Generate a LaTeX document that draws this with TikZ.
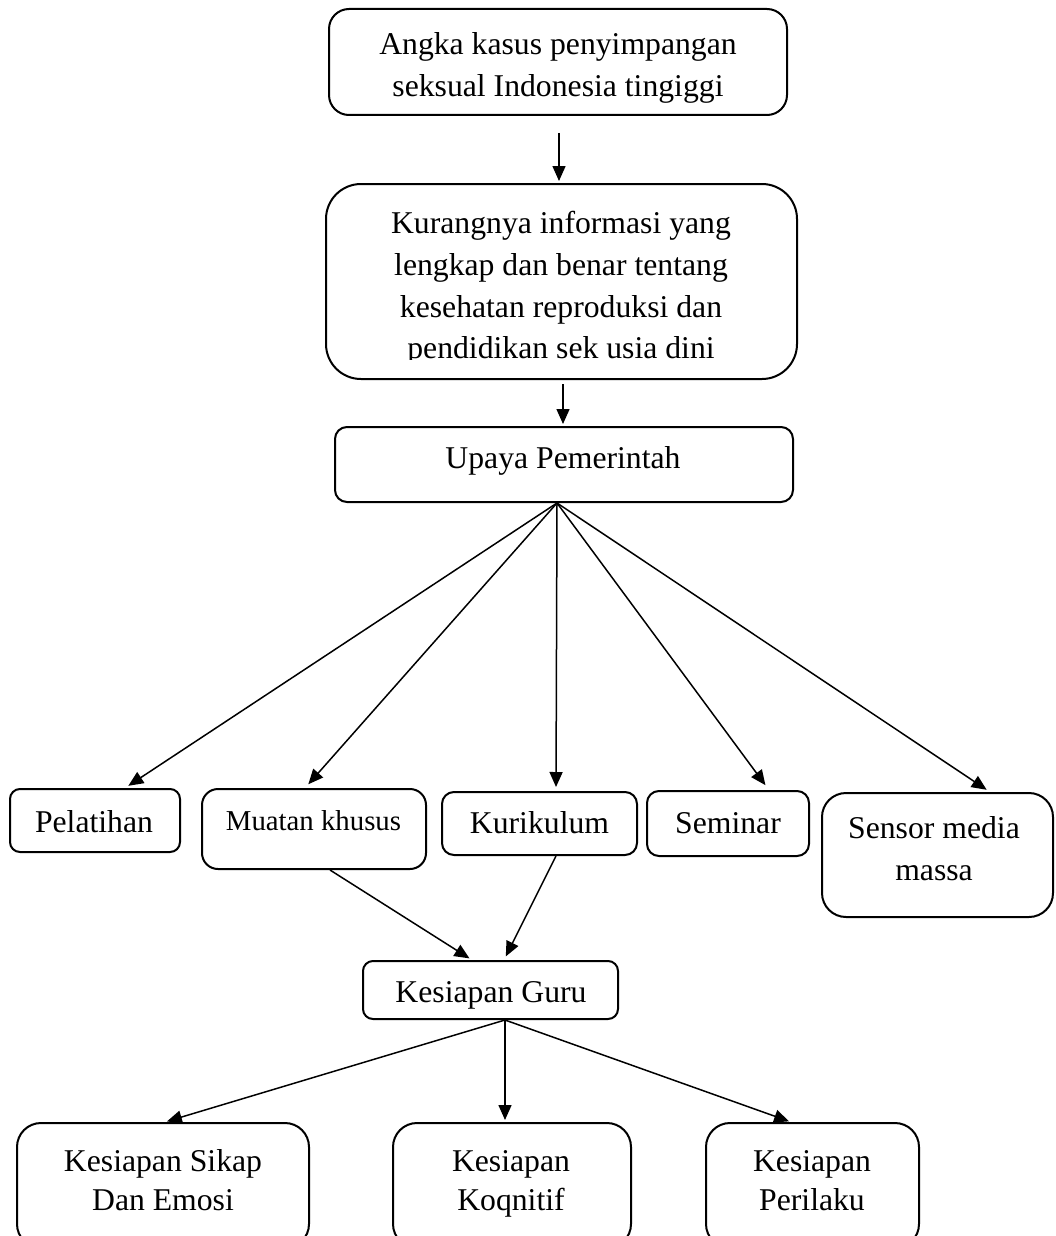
\documentclass[tikz,border=0pt]{standalone}
\usepackage{fontspec}
\setmainfont{Liberation Serif}
\usetikzlibrary{arrows.meta}
\begin{document}
\begin{tikzpicture}[x=0.5pt,y=-0.5pt,
  box/.style={draw, line width=1pt, inner sep=0pt, fill=none},
  txt/.style={inner sep=0pt, anchor=base, font=\fontsize{15.85}{20}\selectfont},
  smalltxt/.style={inner sep=0pt, anchor=base, font=\fontsize{14.4}{18}\selectfont},
  arr/.style={-{Triangle[length=7.5pt,width=6.5pt]}, line width=0.75pt},
  ]
\useasboundingbox (0,0) rectangle (1055,1236);
\clip (0,0) rectangle (1055,1236);

% boxes
\node[box, rounded corners=10pt, minimum width=229pt, minimum height=53pt] (b1) at (558,62) {};
\node[box, rounded corners=17.5pt, minimum width=235.5pt, minimum height=97.5pt] (b2) at (561.5,281.5) {};
\node[box, rounded corners=6pt, minimum width=229pt, minimum height=37.5pt] (b3) at (564,464.5) {};
\node[box, rounded corners=5pt, minimum width=85pt, minimum height=31.5pt] (pel) at (95,820.5) {};
\node[box, rounded corners=8pt, minimum width=112pt, minimum height=40pt] (mua) at (314,829) {};
\node[box, rounded corners=6pt, minimum width=97.5pt, minimum height=31.5pt] (kur) at (539.5,823.5) {};
\node[box, rounded corners=6pt, minimum width=81pt, minimum height=32.5pt] (sem) at (728,823.5) {};
\node[box, rounded corners=12pt, minimum width=115.5pt, minimum height=62pt] (sen) at (937.5,855) {};
\node[box, rounded corners=5pt, minimum width=127.5pt, minimum height=29pt] (guru) at (490.5,990) {};
\node[box, rounded corners=12pt, minimum width=146pt, minimum height=62.5pt] (sik) at (163,1185.5) {};
\node[box, rounded corners=12pt, minimum width=119pt, minimum height=62.5pt] (kog) at (512,1185.5) {};
\node[box, rounded corners=12pt, minimum width=106.5pt, minimum height=62.5pt] (per) at (812.5,1185.5) {};

% texts
\node[txt] (t1a) at (558,55) {Angka kasus penyimpangan};
\node[txt] (t1b) at (558,97) {seksual Indonesia tingiggi};
\node[txt] (t2a) at (561,233) {Kurangnya informasi yang};
\node[txt] (t2b) at (561,275) {lengkap dan benar tentang};
\node[txt] (t2c) at (561,317) {kesehatan reproduksi dan};
\begin{scope}
  \clip (326,184) rectangle (797,359);
  \node[txt] (t2d) at (561,358) {pendidikan sek usia dini};
\end{scope}
\node[txt] (t3) at (563,468) {Upaya Pemerintah};
\node[txt] (tpel) at (94,832) {Pelatihan};
\node[smalltxt] (tmua) at (313.5,830) {Muatan khusus};
\node[txt] (tkur) at (539.5,833) {Kurikulum};
\node[txt] (tsem) at (728,833) {Seminar};
\node[txt] (tsena) at (934,838) {Sensor media};
\node[txt] (tsenb) at (934,880) {massa};
\node[txt] (tguru) at (491,1002) {Kesiapan Guru};
\node[txt] (tsika) at (163,1171) {Kesiapan Sikap};
\node[txt] (tsikb) at (163,1210) {Dan Emosi};
\node[txt] (tkoga) at (511,1171) {Kesiapan};
\node[txt] (tkogb) at (511,1210) {Koqnitif};
\node[txt] (tpera) at (812,1171) {Kesiapan};
\node[txt] (tperb) at (812,1210) {Perilaku};

% connectors
\draw[arr, shorten <=8.5pt, shorten >=1pt] ([xshift=0.5pt]b1.south) -- ([xshift=-1.25pt]b2.north);
\draw[arr, shorten <=2pt, shorten >=1pt] ([xshift=0.75pt]b2.south) -- ([xshift=-0.5pt]b3.north);

\coordinate (fan) at ([xshift=-3.5pt]b3.south);
\draw[arr, shorten >=2pt] (fan) -- ([xshift=15pt]pel.north);
\draw[arr, shorten >=2.5pt] (fan) -- ([xshift=-4.5pt]mua.north);
\draw[arr, shorten >=2pt] (fan) -- ([xshift=8.25pt]kur.north);
\draw[arr, shorten >=3pt] (fan) -- ([xshift=20.5pt]sem.north);
\draw[arr, shorten >=2pt] (fan) -- ([xshift=26.25pt]sen.north);

\draw[arr, shorten >=1.5pt] ([xshift=8pt]mua.south) -- ([xshift=-9.25pt]guru.north);
\draw[arr, shorten >=2pt] ([xshift=8.25pt]kur.south) -- ([xshift=6.75pt]guru.north);

\coordinate (fan2) at ([xshift=7.25pt]guru.south);
\draw[arr, shorten >=1pt] (fan2) -- ([xshift=1pt]sik.north);
\draw[arr, shorten >=1pt] (fan2) -- ([xshift=-3.5pt]kog.north);
\draw[arr, shorten >=1pt] (fan2) -- ([xshift=-10.75pt]per.north);
\end{tikzpicture}
\end{document}
